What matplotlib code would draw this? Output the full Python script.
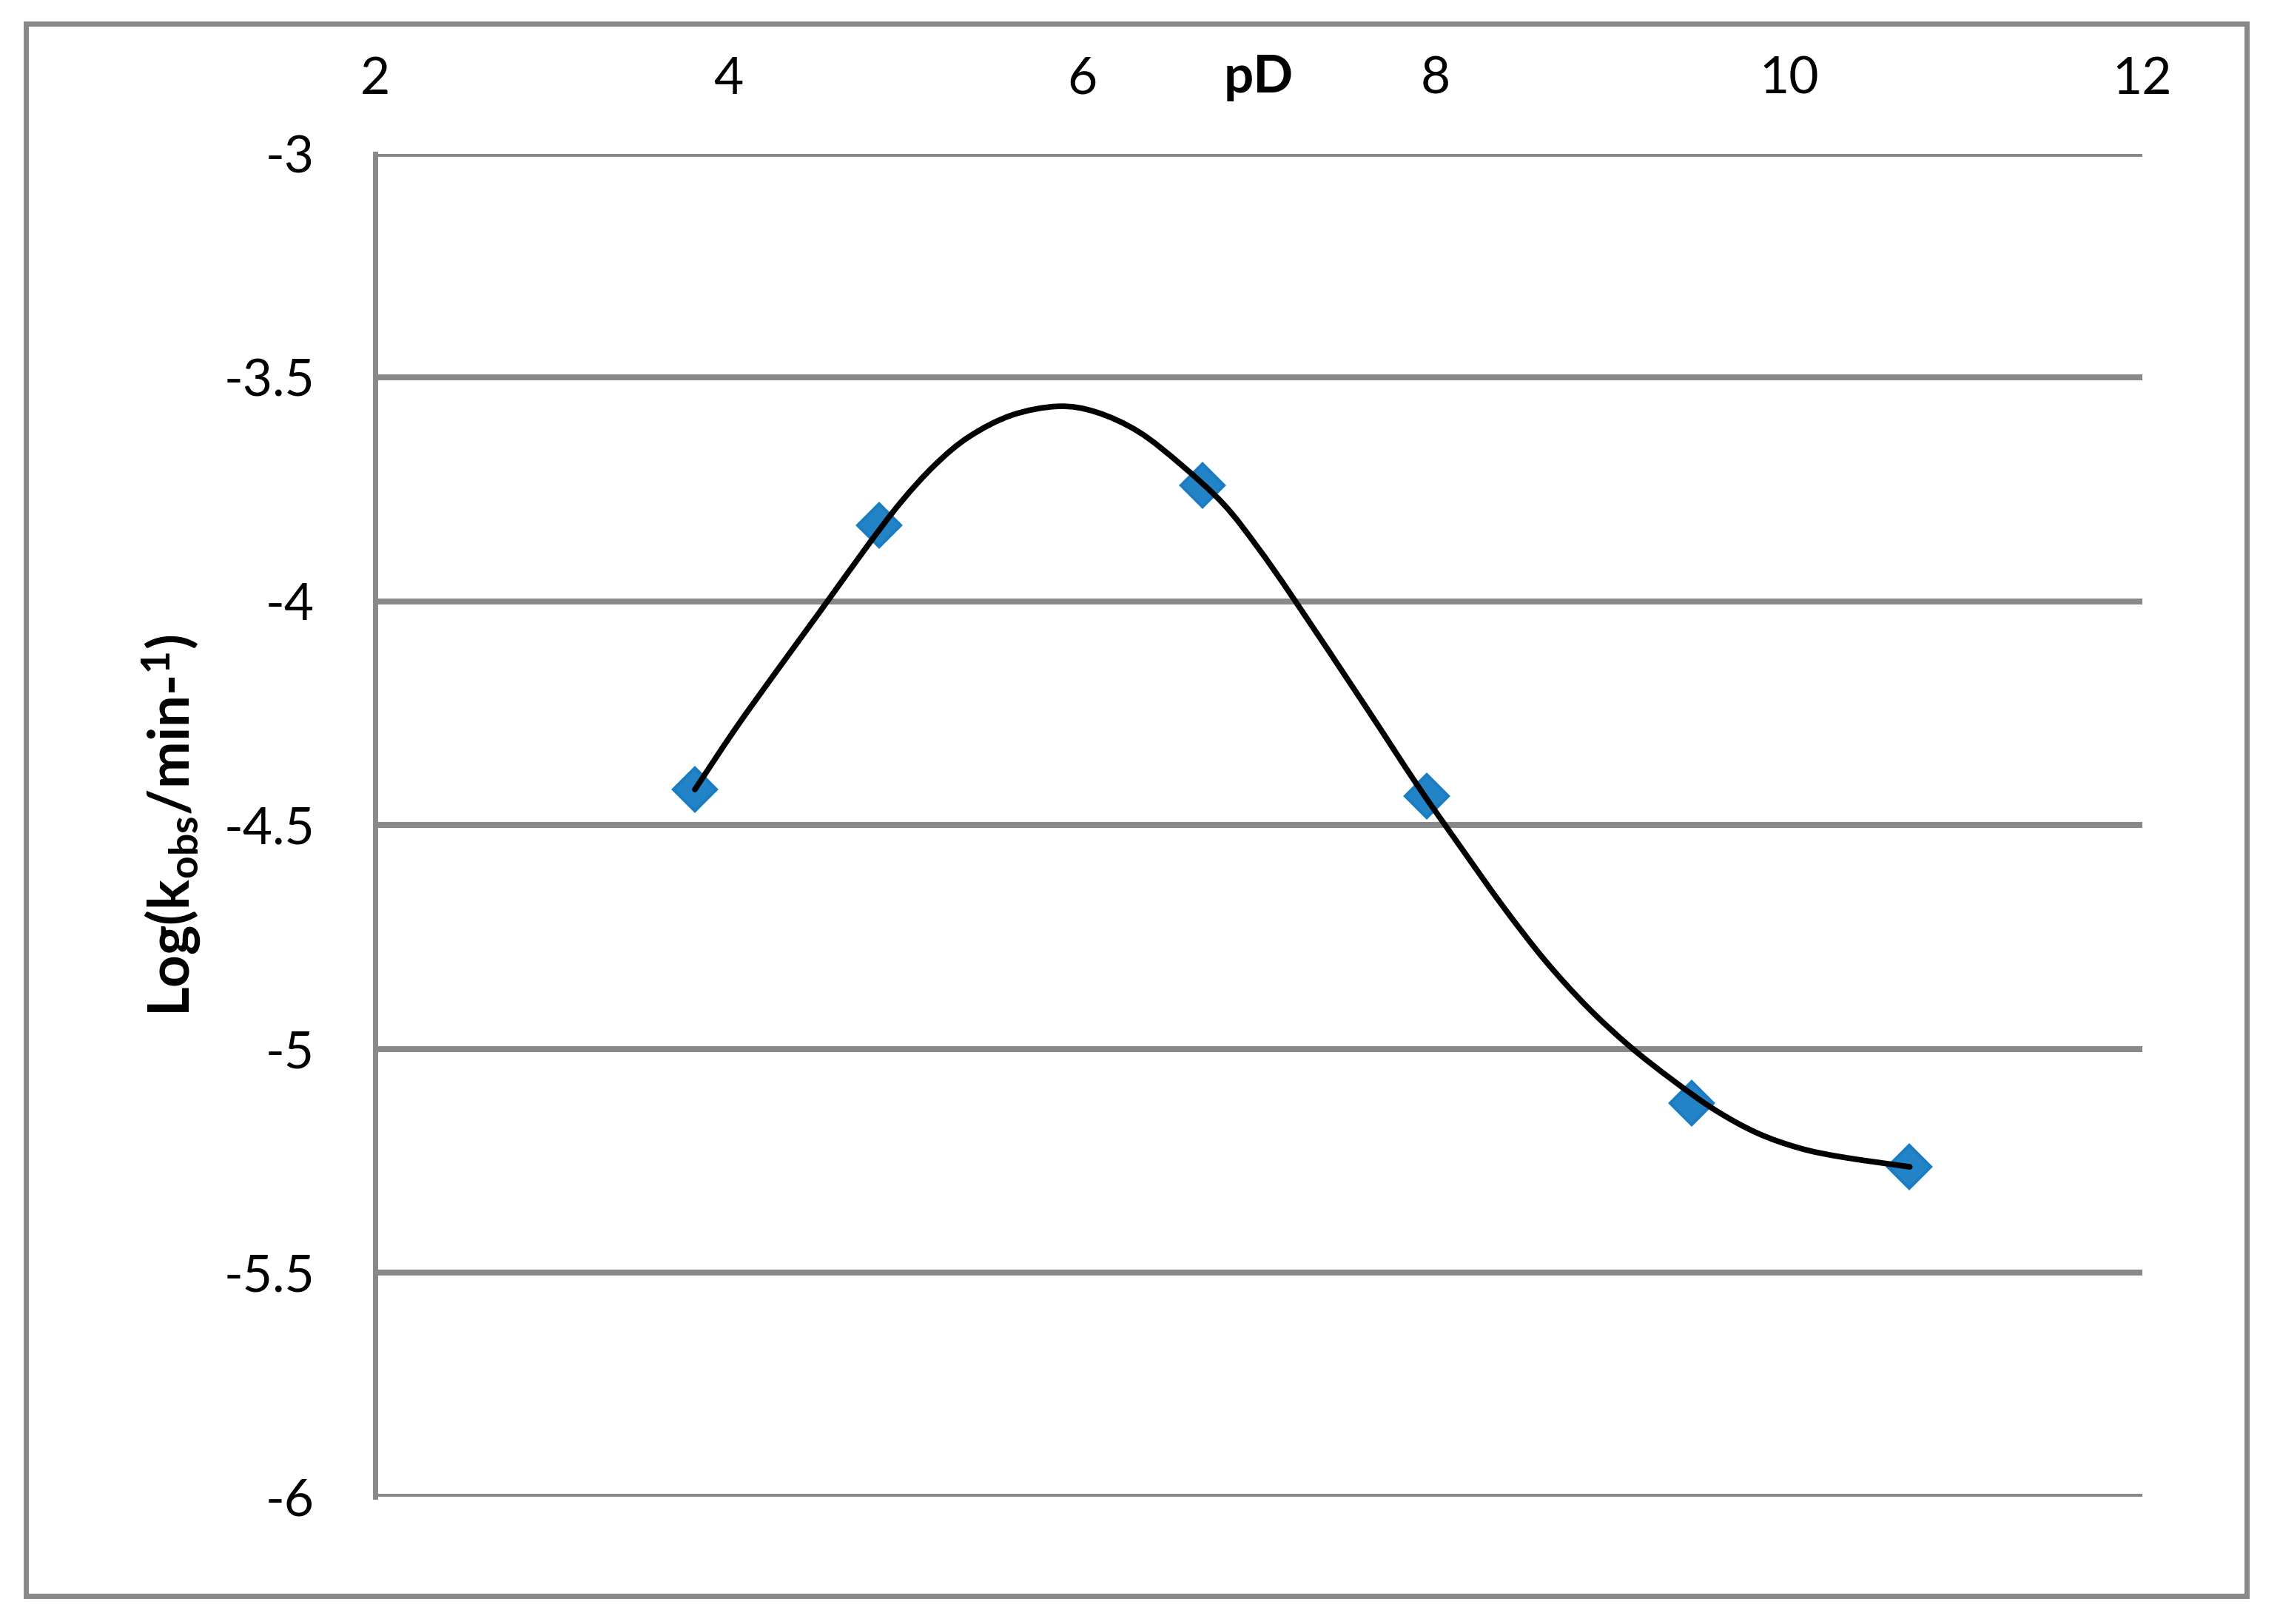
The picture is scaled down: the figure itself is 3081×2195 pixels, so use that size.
import matplotlib
matplotlib.use("Agg")
import matplotlib.pyplot as plt
from matplotlib.path import Path
from matplotlib.patches import PathPatch, Rectangle

plt.rcParams['font.family'] = ['Lato', 'DejaVu Sans']
plt.rcParams['axes.unicode_minus'] = False
plt.rcParams['mathtext.fontset'] = 'custom'
plt.rcParams['mathtext.rm'] = 'Lato'
plt.rcParams['mathtext.bf'] = 'Lato:bold'
plt.rcParams['mathtext.it'] = 'Lato:italic'

# measured points
pD = [3.81, 4.85, 6.68, 7.95, 9.45, 10.68]
log_k = [-4.42, -3.83, -3.74, -4.435, -5.12, -5.263]

# fitted curve
fit_pD = [3.809, 4.037, 4.278, 4.518, 4.783, 4.975, 5.167, 5.360, 5.600, 5.864,
          6.081, 6.321, 6.562, 6.802, 6.994, 7.198, 7.607, 7.895, 8.136, 8.376,
          8.616, 8.857, 9.097, 9.338, 9.578, 9.818, 10.059, 10.299, 10.684]
fit_log_k = [-4.420, -4.285, -4.152, -4.022, -3.877, -3.778, -3.695, -3.632, -3.584, -3.564,
             -3.577, -3.621, -3.695, -3.783, -3.879, -3.994, -4.236, -4.409, -4.545, -4.678,
             -4.800, -4.905, -4.993, -5.068, -5.135, -5.187, -5.221, -5.241, -5.263]

x_ticks = [2, 4, 6, 8, 10, 12]
y_ticks = [-6, -5.5, -5, -4.5, -4, -3.5, -3]
y_labels = ['-6', '-5.5', '-5', '-4.5', '-4', '-3.5', '-3']

grey = '#898989'
blue = '#2283c6'
blue_edge = '#1a7dc4'

fig = plt.figure(figsize=(30.81, 21.95), dpi=100)
ax = fig.add_axes([0.16456, 0.07836, 0.77507, 0.82688])

# outer chart frame
fig.patches.append(Rectangle((0.01136, 0.0173), 0.97404, 0.9681, transform=fig.transFigure,
                             fill=False, edgecolor=grey, linewidth=5))

# smooth curve: catmull-rom segments as bezier path
pts = list(zip(fit_pD, fit_log_k))
verts = [pts[0]]
codes = [Path.MOVETO]
n = len(pts)
for i in range(n - 1):
    p0 = pts[max(i - 1, 0)]
    p1 = pts[i]
    p2 = pts[i + 1]
    p3 = pts[min(i + 2, n - 1)]
    c1 = (p1[0] + (p2[0] - p0[0]) / 6, p1[1] + (p2[1] - p0[1]) / 6)
    c2 = (p2[0] - (p3[0] - p1[0]) / 6, p2[1] - (p3[1] - p1[1]) / 6)
    verts += [c1, c2, p2]
    codes += [Path.CURVE4] * 3
ax.add_patch(PathPatch(Path(verts, codes), fill=False, edgecolor='black',
                       linewidth=5.5, capstyle='round', zorder=4))

ax.plot(pD, log_k, linestyle='none', marker='D', markersize=30,
        markerfacecolor=blue, markeredgecolor=blue_edge, markeredgewidth=3, zorder=3)

ax.set_xlim(2, 12)
ax.set_ylim(-6, -3)
ax.set_xticks(x_ticks)
ax.set_xticklabels([str(t) for t in x_ticks])
ax.set_yticks(y_ticks)
ax.set_yticklabels(y_labels)

ax.xaxis.tick_top()
ax.tick_params(axis='x', length=0, pad=50, labelsize=50)
ax.tick_params(axis='y', length=0, pad=59, labelsize=50)

ax.grid(axis='y', color=grey, linewidth=5.8)
ax.grid(axis='x', visible=False)
ax.set_axisbelow(True)
for s in ['top', 'right', 'bottom']:
    ax.spines[s].set_visible(False)
ax.spines['left'].set_color(grey)
ax.spines['left'].set_linewidth(5)

ax.text(0.5, 1.0457, 'pD', transform=ax.transAxes, ha='center', va='baseline',
        fontsize=51, fontweight='bold')
ax.text(-0.1152, 0.5, r'Log(k$_{\mathbf{obs}}$/min-$^{\mathbf{1}}$)', transform=ax.transAxes,
        rotation=90, ha='center', va='center', fontsize=55, fontweight='bold')

fig.savefig('out.png', dpi=100)
